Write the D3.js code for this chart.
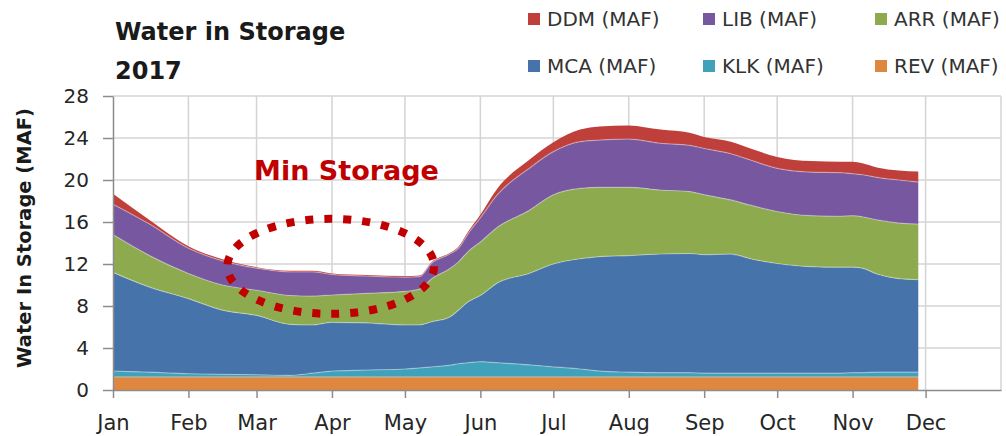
<!DOCTYPE html>
<html>
<head>
<meta charset="utf-8">
<script src="https://cdn.jsdelivr.net/npm/d3@7"></script>
<style>
  html, body { margin: 0; padding: 0; background: #fff; }
  svg { display: block; font-family: "DejaVu Sans", sans-serif; }
</style>
</head>
<body>
<svg id="chart" width="1006" height="436"></svg>
<script>
// storage by reservoir, MAF (stacked bottom -> top)
const dates = ['2017-01-01', '2017-01-16', '2017-02-01', '2017-02-15', '2017-03-01', '2017-03-15',
  '2017-03-24', '2017-04-01', '2017-04-15', '2017-05-01', '2017-05-07', '2017-05-12', '2017-05-19',
  '2017-05-23', '2017-05-27', '2017-06-01', '2017-06-08', '2017-06-21', '2017-07-01', '2017-07-12',
  '2017-07-20', '2017-08-01', '2017-08-14', '2017-08-26', '2017-09-01', '2017-09-12', '2017-09-20',
  '2017-10-01', '2017-10-15', '2017-10-27', '2017-11-01', '2017-11-05', '2017-11-11', '2017-11-20',
  '2017-11-28']
const rev = [1.25, 1.25, 1.25, 1.25, 1.25, 1.25, 1.25, 1.25, 1.25, 1.25, 1.25, 1.25, 1.25, 1.25, 1.25,
  1.25, 1.25, 1.25, 1.25, 1.25, 1.25, 1.25, 1.25, 1.25, 1.25, 1.25, 1.25, 1.25, 1.25, 1.25, 1.25,
  1.25, 1.25, 1.25, 1.25]
const klk = [0.55, 0.45, 0.3, 0.25, 0.2, 0.15, 0.35, 0.55, 0.65, 0.75, 0.85, 0.95, 1.1, 1.25, 1.35,
  1.45, 1.35, 1.15, 0.95, 0.75, 0.55, 0.45, 0.4, 0.4, 0.35, 0.35, 0.35, 0.35, 0.35, 0.35, 0.4, 0.4,
  0.45, 0.45, 0.45]
const mca = [9.4, 8.1, 7.15, 6.1, 5.65, 4.85, 4.6, 4.65, 4.5, 4.2, 4.1, 4.3, 4.55, 5.1, 5.8, 6.3, 7.6,
  8.7, 9.8, 10.5, 10.9, 11.1, 11.3, 11.35, 11.3, 11.35, 10.9, 10.45, 10.15, 10.1, 10.05, 9.95, 9.35,
  8.9, 8.8]
const arr = [3.6, 3.0, 2.4, 2.4, 2.4, 2.75, 2.75, 2.6, 2.8, 3.2, 3.4, 4.1, 4.6, 4.6, 4.8, 5.1, 5.3,
  6.0, 6.6, 6.7, 6.6, 6.5, 6.1, 5.9, 5.7, 5.15, 5.1, 4.95, 4.85, 4.85, 4.9, 4.9, 5.15, 5.3, 5.3]
const lib = [2.9, 3.0, 2.4, 2.3, 2.1, 2.25, 2.3, 1.95, 1.65, 1.35, 1.2, 1.5, 1.4, 1.3, 1.7, 2.3, 3.1,
  4.0, 4.1, 4.45, 4.5, 4.6, 4.45, 4.4, 4.4, 4.4, 4.3, 4.1, 4.15, 4.15, 4.0, 4.0, 4.05, 4.1, 4.0]
const ddm = [1.0, 0.4, 0.2, 0.15, 0.1, 0.1, 0.1, 0.1, 0.1, 0.1, 0.1, 0.1, 0.1, 0.15, 0.2, 0.3, 0.6,
  0.8, 0.9, 1.15, 1.3, 1.3, 1.3, 1.2, 1.1, 1.15, 1.1, 1.1, 1.05, 1.05, 1.15, 1.1, 0.95, 0.9, 1.0]

const seriesKeys = ['REV', 'KLK', 'MCA', 'ARR', 'LIB', 'DDM']
const seriesColors = ['#e0873f', '#3fa2ba', '#4673aa', '#8dab4e', '#7657a0', '#bf3f3a']
// legend order as in the original (row by row)
const legendKeys = ['DDM', 'LIB', 'ARR', 'MCA', 'KLK', 'REV']
const yTicks = [0, 4, 8, 12, 16, 20, 24, 28]

const parseDate = d3.timeParse('%Y-%m-%d')
const table = dates.map(function (d, i) {
  return { date: parseDate(d), REV: rev[i], KLK: klk[i], MCA: mca[i], ARR: arr[i], LIB: lib[i], DDM: ddm[i] }
})

const svg = d3.select('#chart')
const plotL = 113, plotR = 1001, plotT = 96, plotB = 390

const x = d3.scaleTime().domain([parseDate('2017-01-01'), parseDate('2018-01-01')]).range([plotL, plotR])
const y = d3.scaleLinear().domain([0, 28]).range([plotB, plotT])
const color = d3.scaleOrdinal().domain(seriesKeys).range(seriesColors)

const months = d3.timeMonth.range(parseDate('2017-01-01'), parseDate('2018-01-02'))

// grid
const grid = svg.append('g').attr('class', 'grid')
grid.selectAll('.hgrid').data(yTicks.slice(1)).enter().append('line')
  .attr('x1', plotL).attr('x2', plotR)
  .attr('y1', function (d) { return y(d) }).attr('y2', function (d) { return y(d) })
  .attr('stroke', '#d4d4d4').attr('stroke-width', 1.5)
grid.selectAll('.vgrid').data(months.slice(1)).enter().append('line')
  .attr('x1', function (d) { return x(d) }).attr('x2', function (d) { return x(d) })
  .attr('y1', plotT).attr('y2', plotB)
  .attr('stroke', '#d4d4d4').attr('stroke-width', 1.5)

// stacked areas
const stacked = d3.stack().keys(seriesKeys)(table)
const area = d3.area()
  .x(function (d) { return x(d.data.date) })
  .y0(function (d) { return y(d[0]) })
  .y1(function (d) { return y(d[1]) })
  .curve(d3.curveMonotoneX)
const edge = d3.line()
  .x(function (d) { return x(d.data.date) })
  .y(function (d) { return y(d[1]) })
  .curve(d3.curveMonotoneX)

const layers = svg.append('g').attr('class', 'layers')
layers.selectAll('.layer').data(stacked).enter().append('path')
  .attr('class', 'layer')
  .attr('fill', function (d) { return color(d.key) })
  .attr('d', area)
// faint light seam between layers, as in the excel export
layers.selectAll('.seam').data(stacked.slice(0, -1)).enter().append('path')
  .attr('class', 'seam')
  .attr('fill', 'none')
  .attr('stroke', '#ffffff').attr('stroke-opacity', 0.35).attr('stroke-width', 1.2)
  .attr('d', edge)

// axes
const yAxis = svg.append('g').attr('transform', 'translate(' + plotL + ',0)')
  .call(d3.axisLeft(y).tickValues(yTicks).tickSize(10).tickSizeOuter(0).tickPadding(14))
const xAxis = svg.append('g').attr('transform', 'translate(0,' + plotB + ')')
  .call(d3.axisBottom(x).tickValues(months.slice(0, 12)).tickFormat(d3.timeFormat('%b'))
    .tickSize(8).tickSizeOuter(0).tickPadding(17))
;[yAxis, xAxis].forEach(function (a) {
  a.attr('font-family', '"DejaVu Sans", sans-serif').attr('font-size', 20)
  a.select('.domain').attr('stroke', '#8c8c8c').attr('stroke-width', 1.5)
  a.selectAll('.tick line').attr('stroke', '#8c8c8c').attr('stroke-width', 1.5)
  a.selectAll('.tick text').attr('fill', '#262626')
})
xAxis.attr('font-size', 21)

// y axis title
svg.append('text')
  .attr('transform', 'translate(31,' + ((plotT + plotB) / 2 - 5) + ') rotate(-90)')
  .attr('text-anchor', 'middle')
  .attr('font-size', 19.5).attr('font-weight', 'bold').attr('fill', '#1a1a1a')
  .text('Water In Storage (MAF)')

// chart title
const title = svg.append('text').attr('font-size', 24).attr('font-weight', 'bold').attr('fill', '#1a1a1a')
title.append('tspan').attr('x', 115).attr('y', 40).text('Water in Storage')
title.append('tspan').attr('x', 115).attr('y', 79).text('2017')

// legend, 3 columns x 2 rows
const legendCols = [528, 703, 875]
const legendRows = [13, 60]
const legend = svg.append('g').attr('class', 'legend')
const items = legend.selectAll('.item').data(legendKeys).enter().append('g')
  .attr('transform', function (d, i) {
    return 'translate(' + legendCols[i % 3] + ',' + legendRows[Math.floor(i / 3)] + ')'
  })
items.append('rect').attr('width', 12).attr('height', 12)
  .attr('fill', function (d) { return color(d) })
items.append('text').attr('x', 19).attr('y', 13)
  .attr('font-size', 20).attr('fill', '#333')
  .text(function (d) { return d + ' (MAF)' })

// "Min Storage" annotation
const ann = svg.append('g').attr('class', 'annotation')
const ex0 = x(parseDate('2017-02-17')), ex1 = x(parseDate('2017-05-13'))
const ey0 = y(16.3), ey1 = y(7.25)
ann.append('ellipse')
  .attr('cx', (ex0 + ex1) / 2).attr('cy', (ey0 + ey1) / 2)
  .attr('rx', (ex1 - ex0) / 2).attr('ry', (ey1 - ey0) / 2)
  .attr('fill', 'none').attr('stroke', '#c00000')
  .attr('stroke-width', 8).attr('stroke-dasharray', '8 11')
ann.append('text')
  .attr('x', x(parseDate('2017-02-28'))).attr('y', y(20))
  .attr('font-size', 27).attr('font-weight', 'bold').attr('fill', '#c00000')
  .text('Min Storage')
</script>
</body>
</html>
